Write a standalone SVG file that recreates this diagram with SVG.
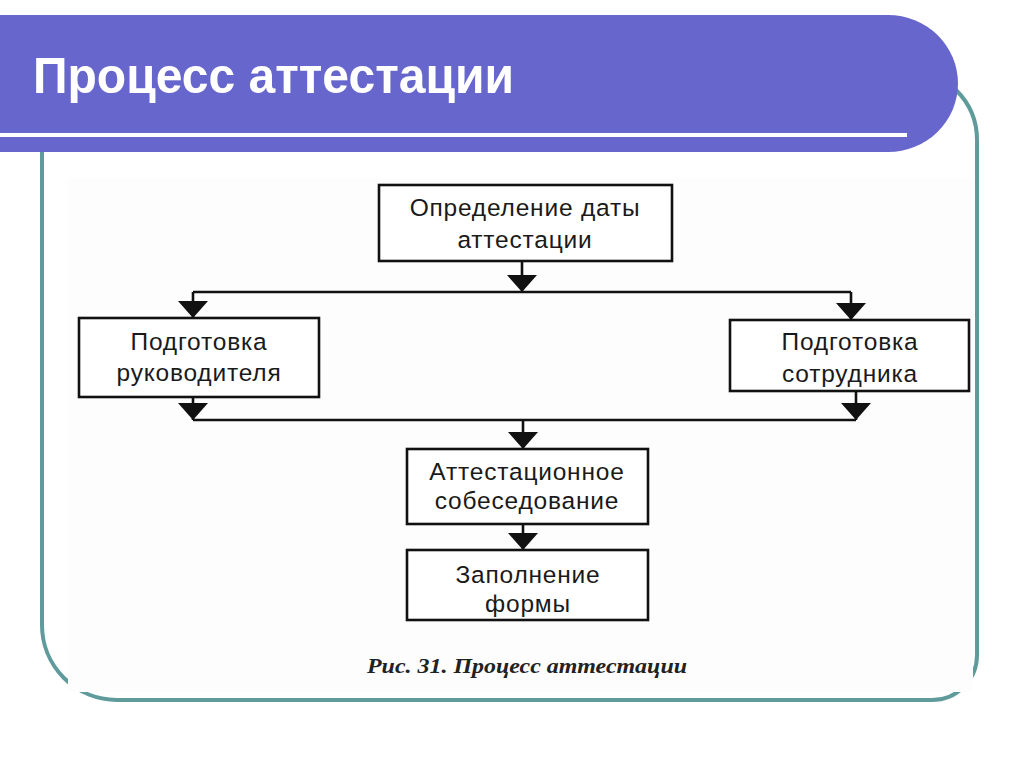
<svg xmlns="http://www.w3.org/2000/svg" width="1024" height="767" viewBox="0 0 1024 767">
<style>
.box{fill:#ffffff;stroke:#111;stroke-width:2.6}
.lbl{font-family:"Liberation Sans",Arial,sans-serif;font-size:24.5px;letter-spacing:0.8px;fill:#1a1a1a;text-anchor:middle}
.con{stroke:#111;stroke-width:2.6;fill:none}
</style>
<defs>
<marker id="ah" markerUnits="userSpaceOnUse" viewBox="0 -15 17 30" refX="17" refY="0" markerWidth="17" markerHeight="30" orient="auto">
<path d="M0,-15 L17,0 L0,15 Z" fill="#111"/>
</marker>
</defs>
<rect width="1024" height="767" fill="#ffffff"/>
<g id="frame">
<path d="M42,120 V625 A75,75 0 0 0 117,700 H932 A45,45 0 0 0 977,655 V140 A70,70 0 0 0 907,70 H42 Z" fill="#ffffff" stroke="#5f9b9b" stroke-width="4"/>
<rect x="68" y="178" width="905" height="514" fill="#fdfdfd"/>
</g>
<g id="banner">
<path d="M0,15 H888 A70,68.5 0 0 1 888,152 H0 Z" fill="#6666cc"/>
<rect x="0" y="133" width="907" height="4" fill="#ffffff"/>
<text x="33" y="93" font-family="'Liberation Sans Narrow','Liberation Sans',Arial,sans-serif" font-size="50" font-weight="bold" fill="#ffffff" textLength="481" lengthAdjust="spacingAndGlyphs">Процесс аттестации</text>
</g>
<g id="connectors">
<path class="con" d="M522,261 V292" marker-end="url(#ah)"/>
<path class="con" d="M193,292 H851"/>
<path class="con" d="M193,292 V318" marker-end="url(#ah)"/>
<path class="con" d="M851,292 V320" marker-end="url(#ah)"/>
<path class="con" d="M193,397 V420" marker-end="url(#ah)"/>
<path class="con" d="M856,391 V420" marker-end="url(#ah)"/>
<path class="con" d="M193,420 H856"/>
<path class="con" d="M523,420 V449" marker-end="url(#ah)"/>
<path class="con" d="M523,524 V550" marker-end="url(#ah)"/>
</g>
<g id="node-date">
<rect class="box" x="379" y="185" width="293" height="76"/>
<text class="lbl" x="525" y="216">Определение даты</text>
<text class="lbl" x="525" y="248">аттестации</text>
</g>
<g id="node-manager">
<rect class="box" x="79" y="318" width="240" height="79"/>
<text class="lbl" x="199" y="350">Подготовка</text>
<text class="lbl" x="199" y="381">руководителя</text>
</g>
<g id="node-employee">
<rect class="box" x="730" y="320" width="239" height="71"/>
<text class="lbl" x="850" y="350">Подготовка</text>
<text class="lbl" x="850" y="382">сотрудника</text>
</g>
<g id="node-interview">
<rect class="box" x="407" y="449" width="241" height="75"/>
<text class="lbl" x="527" y="480">Аттестационное</text>
<text class="lbl" x="527" y="509">собеседование</text>
</g>
<g id="node-form">
<rect class="box" x="407" y="550" width="241" height="70"/>
<text class="lbl" x="528" y="583">Заполнение</text>
<text class="lbl" x="528" y="612">формы</text>
</g>
<g id="caption">
<text x="527" y="673" font-family="'Liberation Serif','Times New Roman',serif" font-size="20" font-weight="bold" font-style="italic" fill="#222" text-anchor="middle" textLength="320" lengthAdjust="spacingAndGlyphs">Рис. 31.  Процесс аттестации</text>
</g>
</svg>
